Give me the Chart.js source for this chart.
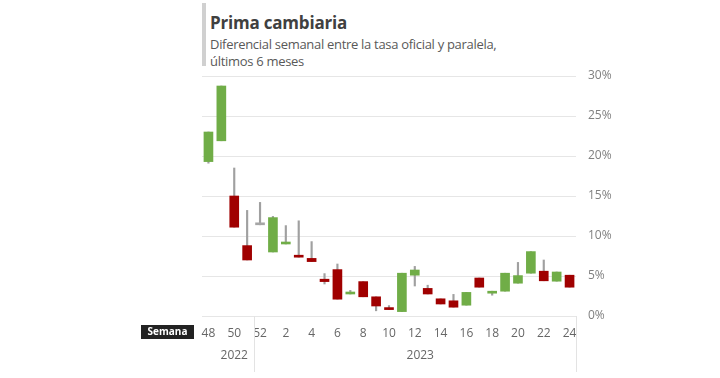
<!DOCTYPE html>
<html>
<head>
<meta charset="utf-8">
<script src="https://cdn.jsdelivr.net/npm/chart.js@4"></script>
<style>
  html,body{margin:0;padding:0;background:#fff;}
  #wrap{position:relative;width:720px;height:378px;overflow:hidden;}
  #bar{position:absolute;left:202px;top:3px;width:4px;height:63px;background:#d0d0d0;}
  #title{position:absolute;left:210px;top:11px;font-family:"Open Sans",sans-serif;font-weight:700;font-size:17px;color:#404040;white-space:nowrap;letter-spacing:-0.2px;}
  #sub{position:absolute;left:210px;top:36px;font-family:"Open Sans",sans-serif;font-size:13px;line-height:17px;color:#595959;white-space:nowrap;letter-spacing:-0.3px;}
  canvas{position:absolute;left:0;top:0;}
</style>
</head>
<body>
<div id="wrap">
  <div id="bar"></div>
  <div id="title">Prima cambiaria</div>
  <div id="sub">Diferencial semanal entre la tasa oficial y paralela,<br>últimos 6 meses</div>
  <canvas id="c" width="720" height="378"></canvas>
</div>
<script>
const weeks = ['48','49','50','51','52','1','2','3','4','5','6','7','8','9','10','11','12','13','14','15','16','17','18','19','20','21','22','23','24'];
const openV  = [19.3,21.9,15.0,8.8,11.4,8.0,9.0,7.5,7.2,4.6,5.8,2.75,4.3,2.4,1.0,0.55,5.1,3.45,2.15,1.9,1.35,4.75,2.85,3.1,4.1,5.35,5.6,4.35,5.1];
const closeV = [23.0,28.75,11.1,7.0,11.4,12.3,9.2,7.35,6.8,4.3,2.1,2.9,2.4,1.25,0.8,5.35,5.75,2.75,1.5,1.1,2.95,3.6,2.95,5.35,5.05,8.05,4.4,5.5,3.6];
const highV  = [23.0,28.75,18.5,13.2,14.2,12.45,11.3,11.9,9.3,5.3,6.5,3.2,4.3,2.4,1.3,5.35,6.2,3.85,2.15,2.7,2.95,4.75,3.1,5.35,6.7,8.05,7.0,5.5,5.1];
const lowV   = [19.1,21.9,11.1,7.0,11.4,8.0,9.0,7.35,6.8,4.0,2.1,2.75,2.4,0.65,0.8,0.55,3.75,2.75,1.5,1.1,1.35,3.6,2.6,3.1,4.1,5.35,4.4,4.35,3.6];
const yTicks = [0,5,10,15,20,25,30];
const yearLabels = ['2022','2023'];
const yearStart = [0,4];

const GREEN = '#70ad47', RED = '#a00000', GRAY = '#a6a6a6';
const bodyColors = openV.map((o,i)=> closeV[i]>o ? GREEN : (closeV[i]<o ? RED : GRAY));

const extras = {
  id:'extras',
  afterDraw(chart){
    const ctx = chart.ctx, x = chart.scales.x, area = chart.chartArea;
    const step = x.getPixelForValue(1) - x.getPixelForValue(0);
    ctx.save();
    ctx.strokeStyle = '#e3e3e3'; ctx.lineWidth = 1;
    const sepX = x.getPixelForValue(yearStart[1]) - step/2;
    [sepX, area.right].forEach(px=>{
      ctx.beginPath(); ctx.moveTo(Math.round(px)+0.5, area.bottom); ctx.lineTo(Math.round(px)+0.5, 372); ctx.stroke();
    });
    ctx.fillStyle = '#666';
    ctx.font = '12px "Open Sans", sans-serif';
    ctx.textAlign = 'center'; ctx.textBaseline = 'middle';
    ctx.fillText(yearLabels[0], x.getPixelForValue(2), 356);
    ctx.fillText(yearLabels[1], (x.getPixelForValue(16)+x.getPixelForValue(17))/2 - 1, 356);
    // Semana box
    ctx.fillStyle = '#222';
    ctx.fillRect(141, 325, 53, 14);
    ctx.fillStyle = '#fff';
    ctx.font = 'bold 10px "Open Sans", sans-serif';
    ctx.fillText('Semana', 167.5, 332.5);
    ctx.restore();
  }
};

new Chart(document.getElementById('c'), {
  type:'bar',
  data:{
    labels: weeks,
    datasets:[
      { label:'body', data: openV.map((o,i)=>[o, closeV[i]]), backgroundColor: bodyColors, barThickness: 9, minBarLength: 2, grouped:false, order:0 },
      { label:'wick', data: lowV.map((l,i)=>[l, highV[i]]), backgroundColor: '#a0a0a0', barThickness: 1.5, grouped:false, order:1 }
    ]
  },
  options:{
    responsive:false, animation:false,
    layout:{ padding:{ left:202, top:76, right:0, bottom:0 } },
    plugins:{ legend:{display:false}, tooltip:{enabled:false} },
    scales:{
      x:{
        grid:{display:false, drawTicks:false},
        border:{display:false},
        ticks:{ autoSkip:false, maxRotation:0, padding:10, color:'#666', font:{family:'"Open Sans", sans-serif', size:12},
          callback:(v,i)=> i%2===0 ? weeks[i] : '' },
        afterFit(s){ s.height = 62; }
      },
      y:{
        position:'right', min:0, max:30,
        afterBuildTicks(s){ s.ticks = yTicks.map(v=>({value:v})); },
        grid:{ color:'#e6e6e6', drawTicks:false },
        border:{display:false},
        ticks:{ padding:12, color:'#808080', font:{family:'"Open Sans", sans-serif', size:12}, callback:v=>v+'%' },
        afterFit(s){ s.width = 144; }
      }
    }
  },
  plugins:[extras]
});
</script>
</body>
</html>
